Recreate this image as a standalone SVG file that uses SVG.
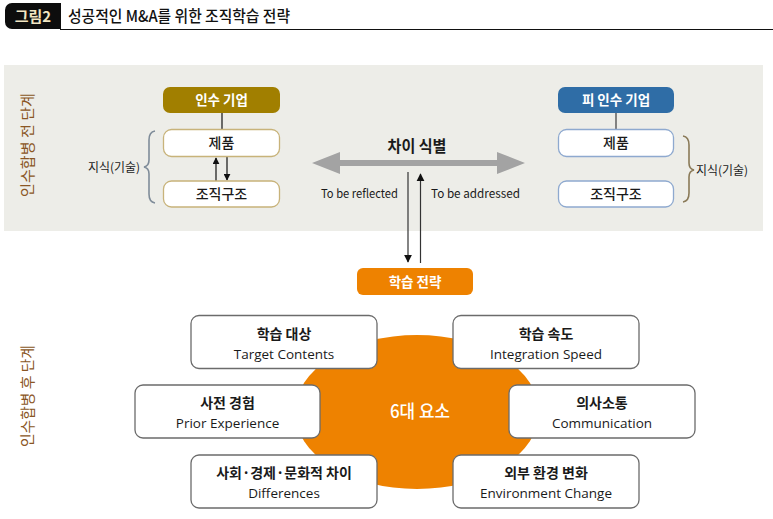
<svg xmlns="http://www.w3.org/2000/svg" width="773" height="519" viewBox="0 0 773 519">
<style>
.ko{font-family:"Noto Sans CJK KR","Noto Sans",sans-serif}
.en{font-family:"Open Sans","Noto Sans",sans-serif}
.bx{fill:#fff;stroke:#6b6b6b;stroke-width:1.3}
.k1{font-family:"Noto Sans CJK KR",sans-serif;font-size:14px;font-weight:700;fill:#1a1a1a;text-anchor:middle}
.e1{font-family:"Open Sans","Noto Sans",sans-serif;font-size:13.5px;fill:#1a1a1a;text-anchor:middle}
.gold{fill:#fff;stroke:#c8b37a;stroke-width:1.3}
.blue{fill:#fff;stroke:#8ea9cf;stroke-width:1.3}
.bt{font-family:"Noto Sans CJK KR",sans-serif;font-size:14px;font-weight:500;fill:#1a1a1a;text-anchor:middle}
.wt{font-family:"Noto Sans CJK KR",sans-serif;font-size:13.5px;font-weight:700;fill:#fff;text-anchor:middle}
.vt{font-family:"Noto Sans CJK KR",sans-serif;font-size:15px;fill:#8a5624;text-anchor:middle}
.sm{font-family:"Noto Sans CJK KR",sans-serif;font-size:12px;fill:#1a1a1a}
.ln{stroke:#222;stroke-width:1.3;fill:none}
</style>
<defs>
<marker id="ah" viewBox="0 0 10 10" refX="9" refY="5" markerWidth="7" markerHeight="7" markerUnits="userSpaceOnUse" orient="auto">
<path d="M0,0 L10,5 L0,10 z" fill="#111"/>
</marker>
<marker id="ah2" viewBox="0 0 10 10" refX="9" refY="5" markerWidth="8" markerHeight="9" markerUnits="userSpaceOnUse" orient="auto">
<path d="M0,0 L10,5 L0,10 z" fill="#111"/>
</marker>
</defs>
<rect width="773" height="519" fill="#fff"/>
<!-- header -->
<g id="header">
<rect x="5" y="3" width="56" height="26" rx="7" fill="#0d0d0d"/>
<rect x="30" y="3" width="31" height="26" fill="#0d0d0d"/>
<text x="33" y="22" class="ko" font-size="15" font-weight="700" fill="#f2e6c2" text-anchor="middle">그림2</text>
<text x="68" y="22" class="ko" font-size="16" font-weight="500" fill="#111" textLength="222" lengthAdjust="spacingAndGlyphs">성공적인 M&amp;A를 위한 조직학습 전략</text>
<line x1="60" y1="29.5" x2="773" y2="29.5" stroke="#111" stroke-width="1.2"/>
</g>
<!-- gray band -->
<rect x="4" y="65" width="759" height="166" fill="#edede8"/>
<text class="vt" transform="translate(33,145) rotate(-90)" textLength="104" lengthAdjust="spacingAndGlyphs">인수합병 전 단계</text>
<text class="vt" transform="translate(33,396) rotate(-90)" textLength="102" lengthAdjust="spacingAndGlyphs">인수합병 후 단계</text>

<!-- ellipse -->
<ellipse cx="417" cy="412" rx="122" ry="77" fill="#ee8200"/>
<text x="420" y="418" class="ko" font-size="18" font-weight="500" fill="#fff" text-anchor="middle" textLength="60" lengthAdjust="spacingAndGlyphs">6대 요소</text>

<!-- connectors -->
<g id="connectors">
<line x1="222" y1="113" x2="222" y2="129" class="ln"/>
<line x1="616" y1="113" x2="616" y2="129" stroke="#666" stroke-width="1.6"/>
<line x1="216" y1="181" x2="216" y2="158" class="ln" marker-end="url(#ah)"/>
<line x1="227" y1="157" x2="227" y2="180" class="ln" marker-end="url(#ah)"/>
<path d="M312,163 L340,152 L340,160 L497,160 L497,152 L525,163 L497,174 L497,166 L340,166 L340,174 Z" fill="#a3a3a3"/>
<line x1="408" y1="172" x2="408" y2="262" stroke="#333" stroke-width="1.2" marker-end="url(#ah2)"/>
<line x1="420.5" y1="263" x2="420.5" y2="174" stroke="#333" stroke-width="1.2" marker-end="url(#ah2)"/>
<!-- braces -->
<path d="M155,131 Q149,132 149,140 L149,160 Q149,166 144,167 Q149,168 149,174 L149,194 Q149,202 155,203" fill="none" stroke="#7f8c99" stroke-width="1.6"/>
<path d="M683,136 Q689,137 689,145 L689,163 Q689,169 694,170 Q689,171 689,177 L689,193 Q689,201 683,202" fill="none" stroke="#8a7a58" stroke-width="1.6"/>
</g>

<text x="88" y="172" class="sm" textLength="52" lengthAdjust="spacingAndGlyphs">지식(기술)</text>
<text x="696" y="175" class="sm" textLength="52" lengthAdjust="spacingAndGlyphs">지식(기술)</text>
<text x="417" y="152" class="ko" font-size="16" font-weight="700" fill="#1a1a1a" text-anchor="middle" textLength="59" lengthAdjust="spacingAndGlyphs">차이 식별</text>
<text x="321" y="198" class="ko" font-size="12" fill="#1a1a1a" textLength="77" lengthAdjust="spacingAndGlyphs">To be reflected</text>
<text x="431" y="198" class="ko" font-size="12" fill="#1a1a1a" textLength="89" lengthAdjust="spacingAndGlyphs">To be addressed</text>

<!-- acquirer -->
<g id="acq">
<rect x="163" y="87" width="117" height="26" rx="7" fill="#a17f00"/>
<text x="221.5" y="105" class="wt">인수 기업</text>
</g>
<g id="acq-product"><rect x="163.5" y="129.5" width="116" height="27" rx="8" class="gold"/><text x="221.5" y="148" class="bt">제품</text></g>
<g id="acq-org"><rect x="163.5" y="181" width="116" height="26" rx="8" class="gold"/><text x="221.5" y="199" class="bt">조직구조</text></g>

<g id="target">
<rect x="558" y="87" width="116" height="26" rx="7" fill="#2f6da6"/>
<text x="616" y="105" class="wt">피 인수 기업</text>
</g>
<g id="tgt-product"><rect x="558.5" y="129.5" width="115" height="27" rx="8" class="blue"/><text x="616" y="148" class="bt">제품</text></g>
<g id="tgt-org"><rect x="558.5" y="181" width="115" height="26" rx="8" class="blue"/><text x="616" y="199" class="bt">조직구조</text></g>

<g id="strategy">
<rect x="357" y="268" width="116" height="27" rx="6" fill="#ee8200"/>
<text x="415" y="287" class="wt">학습 전략</text>
</g>

<g id="n1"><rect x="191" y="315.5" width="186" height="53" rx="8" class="bx"/><text x="284" y="339" class="k1">학습 대상</text><text x="284" y="359" class="e1">Target Contents</text></g>
<g id="n2"><rect x="453" y="315.5" width="186" height="53" rx="8" class="bx"/><text x="546" y="339" class="k1">학습 속도</text><text x="546" y="359" class="e1">Integration Speed</text></g>
<g id="n3"><rect x="135" y="385" width="185" height="53" rx="8" class="bx"/><text x="227.5" y="408" class="k1">사전 경험</text><text x="227.5" y="428" class="e1">Prior Experience</text></g>
<g id="n4"><rect x="509" y="385" width="186" height="53" rx="8" class="bx"/><text x="602" y="408" class="k1">의사소통</text><text x="602" y="428" class="e1">Communication</text></g>
<g id="n5"><rect x="191" y="455" width="186" height="53" rx="8" class="bx"/><text x="284" y="478" class="k1">사회·경제·문화적 차이</text><text x="284" y="498" class="e1">Differences</text></g>
<g id="n6"><rect x="453" y="455" width="186" height="53" rx="8" class="bx"/><text x="546" y="478" class="k1">외부 환경 변화</text><text x="546" y="498" class="e1">Environment Change</text></g>
</svg>
